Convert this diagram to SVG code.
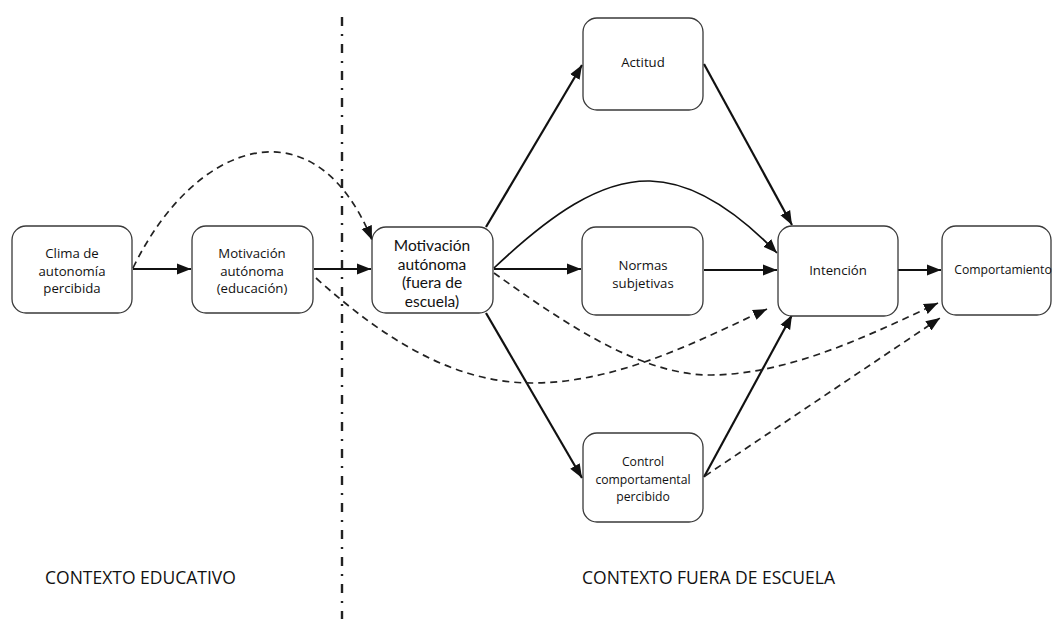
<svg xmlns="http://www.w3.org/2000/svg" width="1053" height="619" viewBox="0 0 1053 619">
  <style>
    .box { fill: #ffffff; stroke: #3a3a3a; stroke-width: 1.3; }
    .t { font-family: "Open Sans", "Liberation Sans", sans-serif; fill: #111; text-anchor: middle; }
    .n13 { font-size: 13.2px; }
    .n12 { font-size: 12.2px; }
    .n15 { font-family: Lato, "Open Sans", sans-serif; font-size: 15.5px; }
    .lbl { font-family: "Open Sans", "Liberation Sans", sans-serif; font-size: 17.5px; fill: #111; }
    .solid { fill: none; stroke: #111; stroke-width: 2.2; marker-end: url(#arr); }
    .thin { fill: none; stroke: #111; stroke-width: 1.7; marker-end: url(#arr); }
    .dash { fill: none; stroke: #222; stroke-width: 1.7; stroke-dasharray: 7 5; marker-end: url(#arr); }
    .divider { fill: none; stroke: #222; stroke-width: 2.4; stroke-dasharray: 9 8 2 8; }
  </style>
  <defs>
    <marker id="arr" markerUnits="userSpaceOnUse" markerWidth="15" markerHeight="13" viewBox="0 0 15 13" refX="14" refY="6.5" orient="auto">
      <path d="M0,1 L14,6.5 L0,12 Z" fill="#111"/>
    </marker>
  </defs>

  <rect width="1053" height="619" fill="#ffffff"/>

  <!-- boundary between the two contexts -->
  <line class="divider" x1="342" y1="17" x2="342" y2="619"/>

  <g id="connectors">
    <!-- solid paths -->
    <path class="solid" d="M133,269 L191,269"/>
    <path class="solid" d="M314,269 L371,269"/>
    <path class="solid" d="M486,227 L582,65"/>
    <path class="solid" d="M494,269 L581,269"/>
    <path class="solid" d="M486,313 L582,478"/>
    <path class="thin" d="M494,268 C550,215 600,180 650,181 C700,182 745,220 777,253"/>
    <path class="solid" d="M704,64 L792,225"/>
    <path class="solid" d="M704,270 L777,270"/>
    <path class="solid" d="M704,477 L792,315"/>
    <path class="solid" d="M898,270 L941,270"/>
    <!-- dashed paths -->
    <path class="dash" d="M133,268 C195,140 315,100 372,240"/>
    <path class="dash" d="M316,278 C390,345 460,384 535,383 C620,382 700,340 767,309"/>
    <path class="dash" d="M494,273 C560,320 640,376 712,375 C790,374 870,335 938,303"/>
    <path class="dash" d="M705,476 L940,318"/>
  </g>

  <g id="clima">
    <rect class="box" x="12" y="226" width="120" height="87" rx="14"/>
    <text class="t n13" x="72" y="258">Clima de</text>
    <text class="t n13" x="72" y="276">autonomía</text>
    <text class="t n13" x="72" y="293">percibida</text>
  </g>

  <g id="motivacion-educacion">
    <rect class="box" x="192" y="226" width="121" height="87" rx="14"/>
    <text class="t n13" x="252" y="258">Motivación</text>
    <text class="t n13" x="252" y="276">autónoma</text>
    <text class="t n13" x="252" y="293">(educación)</text>
  </g>

  <g id="motivacion-fuera">
    <rect class="box" x="372" y="227" width="121" height="86" rx="14"/>
    <text class="t n15" x="432" y="251">Motivación</text>
    <text class="t n15" x="432" y="269.6">autónoma</text>
    <text class="t n15" x="432" y="288.2">(fuera de</text>
    <text class="t n15" x="432" y="306.8">escuela)</text>
  </g>

  <g id="actitud">
    <rect class="box" x="583" y="18" width="120" height="92" rx="14"/>
    <text class="t n13" x="643" y="67">Actitud</text>
  </g>

  <g id="normas">
    <rect class="box" x="582" y="227" width="121" height="88" rx="14"/>
    <text class="t n13" x="643" y="270">Normas</text>
    <text class="t n13" x="643" y="288">subjetivas</text>
  </g>

  <g id="control">
    <rect class="box" x="583" y="433" width="120" height="89" rx="14"/>
    <text class="t n12" x="643" y="466">Control</text>
    <text class="t n12" x="643" y="484">comportamental</text>
    <text class="t n12" x="643" y="501">percibido</text>
  </g>

  <g id="intencion">
    <rect class="box" x="778" y="226" width="120" height="90" rx="14"/>
    <text class="t n13" x="838" y="275">Intención</text>
  </g>

  <g id="comportamiento">
    <rect class="box" x="942" y="226" width="109" height="89" rx="14"/>
    <text class="t n12" x="1003" y="274">Comportamiento</text>
  </g>

  <g id="context-labels">
    <text class="lbl" x="45" y="584">CONTEXTO EDUCATIVO</text>
    <text class="lbl" x="582" y="584">CONTEXTO FUERA DE ESCUELA</text>
  </g>
</svg>
